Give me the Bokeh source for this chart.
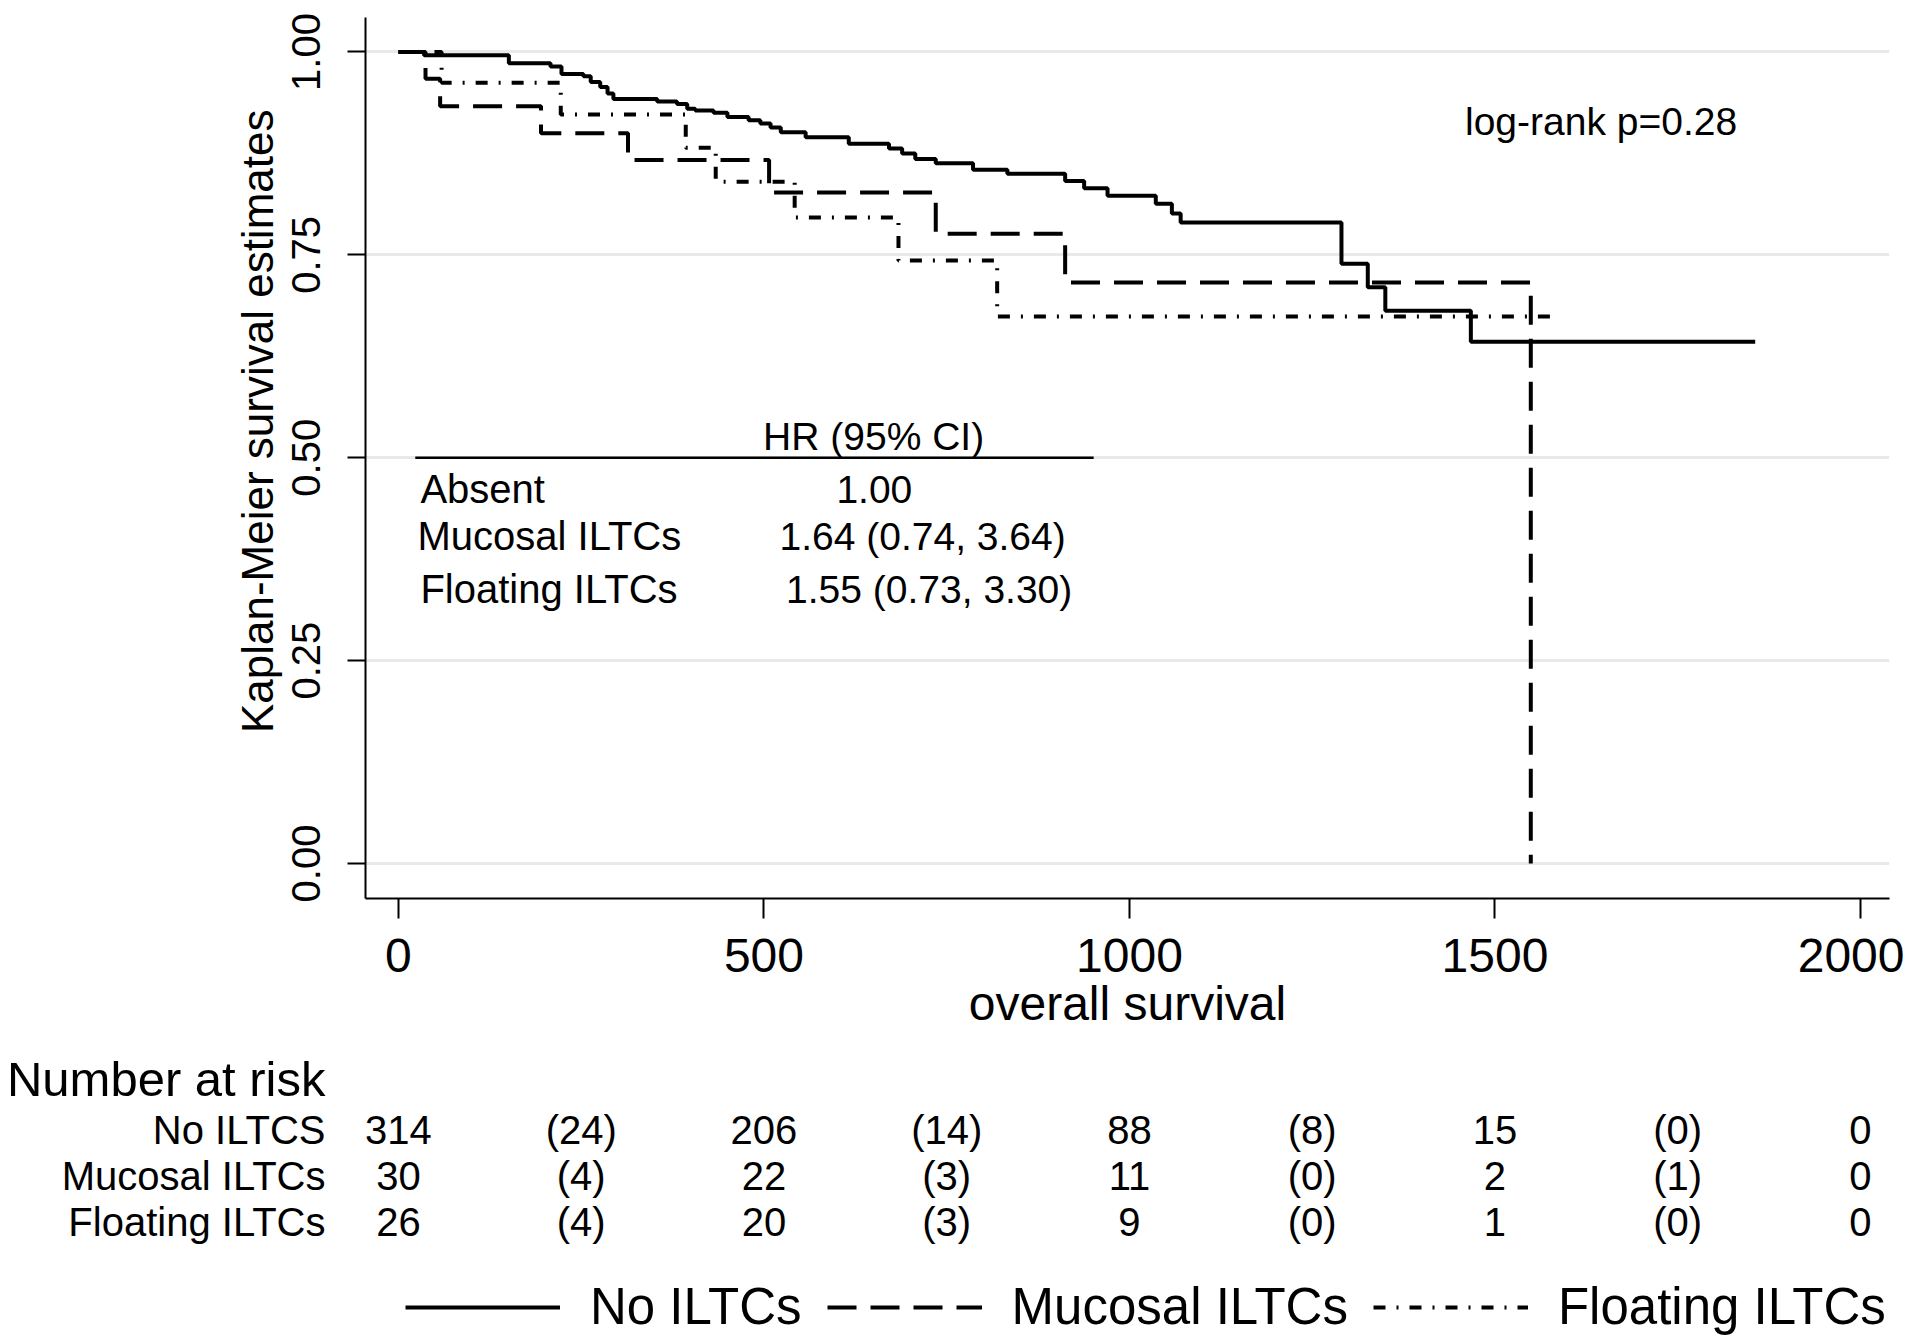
from bokeh.plotting import figure
from bokeh.models import (Range1d, FixedTicker, PrintfTickFormatter, Label,
                          Legend, LegendItem)
from bokeh.layouts import column
from bokeh.embed import file_html
from bokeh.resources import INLINE
from bokeh.core.properties import value

FONT = "Liberation Sans"
NAN = float("nan")

# ---------------- data ----------------
no_t = [0, 35, 151, 208, 223, 253, 263, 276, 286, 294, 354, 381, 395, 406, 431,
        450, 479, 495, 509, 523, 557, 616, 671, 689, 707, 735, 786, 833, 912, 938,
        970, 1036, 1058, 1070, 1290, 1326, 1350, 1467, 1856]
no_s = [1.0, 0.996, 0.986, 0.982, 0.973, 0.970, 0.963, 0.957, 0.949, 0.942,
        0.939, 0.936, 0.930, 0.928, 0.925, 0.920, 0.916, 0.912, 0.907, 0.901,
        0.895, 0.887, 0.881, 0.875, 0.868, 0.863, 0.855, 0.850, 0.841, 0.832,
        0.823, 0.813, 0.801, 0.790, 0.739, 0.710, 0.681, 0.643, 0.643]

muc_t = [0, 37, 57, 195, 314, 507, 735, 912, 1549]
muc_s = [1.0, 0.967, 0.933, 0.900, 0.867, 0.827, 0.776, 0.716, 0.0]

flo_t = [0, 59, 222, 393, 434, 542, 684, 819, 1590]
flo_s = [1.0, 0.962, 0.923, 0.882, 0.840, 0.796, 0.743, 0.674, 0.674]

x_ticks = [0, 500, 1000, 1500, 2000]
y_ticks = [0.0, 0.25, 0.5, 0.75, 1.0]

risk_header = "Number at risk"
risk_times = [0, 500, 1000, 1500, 2000]
risk_mid_times = [250, 750, 1250, 1750]
risk_groups = ["No ILTCS", "Mucosal ILTCs", "Floating ILTCs"]
risk_no = [314, 206, 88, 15, 0]
risk_no_cens = [24, 14, 8, 0]
risk_muc = [30, 22, 11, 2, 0]
risk_muc_cens = [4, 3, 0, 1]
risk_flo = [26, 20, 9, 1, 0]
risk_flo_cens = [4, 3, 0, 0]

legend_labels = ["No ILTCs", "Mucosal ILTCs", "Floating ILTCs"]

hr_header = "HR (95% CI)"
hr_groups = ["Absent", "Mucosal ILTCs", "Floating ILTCs"]
hr_values = ["1.00", "1.64 (0.74, 3.64)", "1.55 (0.73, 3.30)"]
logrank_text = "log-rank p=0.28"
y_title = "Kaplan-Meier survival estimates"
x_title = "overall survival"

# ---------------- styling / layout ----------------
DASHES = ["solid", "29 14", "12 11 2 11"]
LW = 4
W = 1904
FR_L, FR_R = 365, 1889            # frame left/right (px)
H_TOP, H_HEAD, H_ROWS = 1050, 56, 236
X_RANGE = Range1d(-45.1, 2039.7)


def style_axis(ax):
    ax.axis_line_color = "black"
    ax.axis_line_width = 2
    ax.major_tick_line_color = "black"
    ax.major_tick_line_width = 2
    ax.major_tick_in = 0
    ax.minor_tick_line_color = None
    ax.major_label_text_font = FONT
    ax.major_label_text_color = "black"
    ax.axis_label_text_font = FONT
    ax.axis_label_text_font_style = "normal"
    ax.axis_label_text_color = "black"


# ---------------- top figure: KM curves ----------------
p = figure(width=W, height=H_TOP, output_backend="svg", toolbar_location=None,
           x_range=X_RANGE, y_range=Range1d(-0.0431, 1.0425),
           min_border_left=FR_L, min_border_right=W - FR_R,
           min_border_top=17, min_border_bottom=H_TOP - 898)
p.outline_line_color = None
p.background_fill_color = "white"
p.xgrid.visible = False
p.ygrid.grid_line_color = "#e9e9e9"
p.ygrid.grid_line_width = 3

p.xaxis.ticker = FixedTicker(ticks=x_ticks)
p.yaxis.ticker = FixedTicker(ticks=y_ticks)
p.yaxis.formatter = PrintfTickFormatter(format="%.2f")
style_axis(p.xaxis[0])
style_axis(p.yaxis[0])

p.xaxis.major_tick_out = 20
p.xaxis.major_label_text_font_size = "48px"
p.xaxis.major_label_standoff = 20
p.xaxis.axis_label = x_title
p.xaxis.axis_label_text_font_size = "48px"
p.xaxis.axis_label_standoff = 2

p.yaxis.major_tick_out = 18
p.yaxis.major_label_text_font_size = "40px"
p.yaxis.major_label_orientation = "vertical"
p.yaxis.major_label_standoff = 27
# leading no-break spaces shift the centred title up, as in the reference
p.yaxis.axis_label = "\u00a0" * 6 + y_title
p.yaxis.axis_label_text_font_size = "44px"
p.yaxis.axis_label_standoff = 8

renderers = []
for t, s, d in zip([no_t, muc_t, flo_t], [no_s, muc_s, flo_s], DASHES):
    renderers.append(p.step(x=t, y=s, mode="after", line_color="black",
                            line_width=LW, line_dash=d))

p.add_layout(Label(x=1459, y=0.914, text=logrank_text, text_font=FONT,
                   text_font_size="39px", text_color="black",
                   text_align="left", text_baseline="middle"))
p.segment(x0=[23], y0=[0.5], x1=[951], y1=[0.5], line_color="black",
          line_width=2.5)
p.add_layout(Label(x=650, y=0.526, text=hr_header, text_font=FONT,
                   text_font_size="39px", text_color="black",
                   text_align="center", text_baseline="middle"))
hr_y = [0.461, 0.403, 0.338]
hr_lab_x = [30, 26, 30]
hr_val_x = [651, 717, 726]
for g, v, yy, lx, vx in zip(hr_groups, hr_values, hr_y, hr_lab_x, hr_val_x):
    p.add_layout(Label(x=lx, y=yy, text=g, text_font=FONT, text_font_size="40px",
                       text_color="black", text_align="left",
                       text_baseline="middle"))
    p.add_layout(Label(x=vx, y=yy, text=v, text_font=FONT, text_font_size="39px",
                       text_color="black", text_align="center",
                       text_baseline="middle"))


def table_axis(fig, labels, size):
    fig.yaxis.ticker = FixedTicker(ticks=list(labels.keys()))
    fig.yaxis.major_label_overrides = labels
    ax = fig.yaxis[0]
    ax.axis_line_color = None
    ax.major_tick_line_color = None
    ax.major_tick_out = 0
    ax.major_tick_in = 0
    ax.minor_tick_line_color = None
    ax.major_label_standoff = FR_L - 325
    ax.major_label_text_font = FONT
    ax.major_label_text_font_size = size
    ax.major_label_text_color = "black"
    fig.outline_line_color = None
    fig.grid.visible = False


# ---------------- "Number at risk" header ----------------
p_head = figure(width=W, height=H_HEAD, output_backend="svg",
                toolbar_location=None, x_range=X_RANGE,
                y_range=Range1d(-28, 28), x_axis_type=None,
                min_border_left=FR_L, min_border_right=W - FR_R,
                min_border_top=0, min_border_bottom=0)
table_axis(p_head, {0: risk_header}, "49px")

# ---------------- number-at-risk rows + legend ----------------
p_rows = figure(width=W, height=H_ROWS, output_backend="svg",
                toolbar_location=None, x_range=X_RANGE,
                y_range=Range1d(4.6304, -0.5), x_axis_type=None,
                min_border_left=FR_L, min_border_right=W - FR_R,
                min_border_top=0, min_border_bottom=0)
table_axis(p_rows, {i: g for i, g in enumerate(risk_groups)}, "40px")

rows = [(risk_no, risk_no_cens), (risk_muc, risk_muc_cens),
        (risk_flo, risk_flo_cens)]
for r, (nums, cens) in enumerate(rows):
    xs = risk_times + risk_mid_times
    txt = [str(n) for n in nums] + ["(%d)" % c for c in cens]
    p_rows.text(x=xs, y=[r] * len(xs), text=txt, text_font=value(FONT),
                text_font_size="40px", text_color="black", text_align="center",
                text_baseline="middle")

items = []
for lab, d in zip(legend_labels, DASHES):
    rr = p_rows.line(x=[0, 1], y=[NAN, NAN], line_color="black",
                     line_width=LW, line_dash=d)
    items.append(LegendItem(label=lab, renderers=[rr]))
legend = Legend(items=items, orientation="horizontal", location=(40, 6),
                glyph_width=155, glyph_height=30, label_standoff=30, spacing=25,
                padding=0, margin=0, border_line_color=None,
                background_fill_alpha=0, label_text_font=FONT,
                label_text_font_size="51px", label_text_color="black")
p_rows.add_layout(legend)

layout = column(p, p_head, p_rows, spacing=0)
open("out.html", "w").write(file_html(layout, INLINE))
